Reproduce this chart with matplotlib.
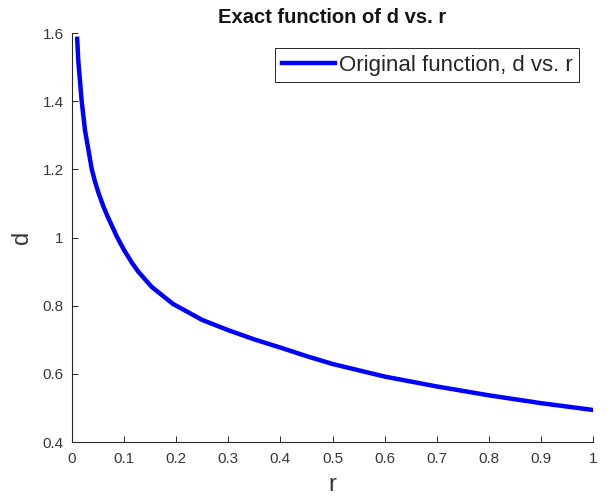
import matplotlib
matplotlib.use("Agg")
import matplotlib.pyplot as plt

# values
r_vals = [0.01, 0.012, 0.0186, 0.025, 0.038, 0.044, 0.05, 0.06, 0.068, 0.086,
          0.1, 0.115, 0.127, 0.153, 0.194, 0.25, 0.3, 0.35, 0.4, 0.45,
          0.5, 0.6, 0.7, 0.8, 0.9, 1.0]
d_vals = [1.583, 1.52, 1.40, 1.314, 1.20, 1.165, 1.135, 1.092, 1.063, 1.003,
          0.963, 0.926, 0.900, 0.855, 0.805, 0.758, 0.728, 0.701, 0.677, 0.652,
          0.629, 0.592, 0.563, 0.537, 0.514, 0.494]
x_ticks = [0, 0.1, 0.2, 0.3, 0.4, 0.5, 0.6, 0.7, 0.8, 0.9, 1]
x_labels = ['0', '0.1', '0.2', '0.3', '0.4', '0.5', '0.6', '0.7', '0.8', '0.9', '1']
y_ticks = [0.4, 0.6, 0.8, 1.0, 1.2, 1.4, 1.6]
y_labels = ['0.4', '0.6', '0.8', '1', '1.2', '1.4', '1.6']

plt.rcParams['font.family'] = ['Liberation Sans', 'DejaVu Sans']
axcol = '#262626'
txtcol = '#383838'

fig = plt.figure(figsize=(6.09, 4.98), dpi=100)
ax = fig.add_axes([72/609, 56/498, 521/609, 409/498])

ax.plot(r_vals, d_vals, color=(0, 0, 1), linewidth=3.2, label='Original function, d vs. r')

ax.set_xlim(0, 1)
ax.set_ylim(0.4, 1.6)
ax.set_xticks(x_ticks)
ax.set_xticklabels(x_labels)
ax.set_yticks(y_ticks)
ax.set_yticklabels(y_labels)
ax.tick_params(direction='in', length=4, width=0.7, colors=axcol, labelcolor=txtcol,
               labelsize=11)
ax.tick_params(axis='x', pad=7)
ax.tick_params(axis='y', pad=6)
for side in ['top', 'right']:
    ax.spines[side].set_visible(False)
for side in ['left', 'bottom']:
    ax.spines[side].set_color(axcol)
    ax.spines[side].set_linewidth(0.8)

ax.set_xlabel('r', fontsize=17, color=txtcol, labelpad=6)
ax.set_ylabel('d', fontsize=17, color=txtcol, labelpad=7)
ax.set_title('Exact function of d vs. r', fontsize=14.5, fontweight='bold', color='#141414', pad=7)

leg = ax.legend(loc='upper right', bbox_to_anchor=(0.973, 0.963), borderaxespad=0,
                fontsize=16, handlelength=2.4, handletextpad=0.15, borderpad=0.3,
                fancybox=False, framealpha=1, edgecolor=axcol)
leg.get_frame().set_linewidth(0.7)
for t in leg.get_texts():
    t.set_color(axcol)

fig.savefig('out.png', dpi=100)
